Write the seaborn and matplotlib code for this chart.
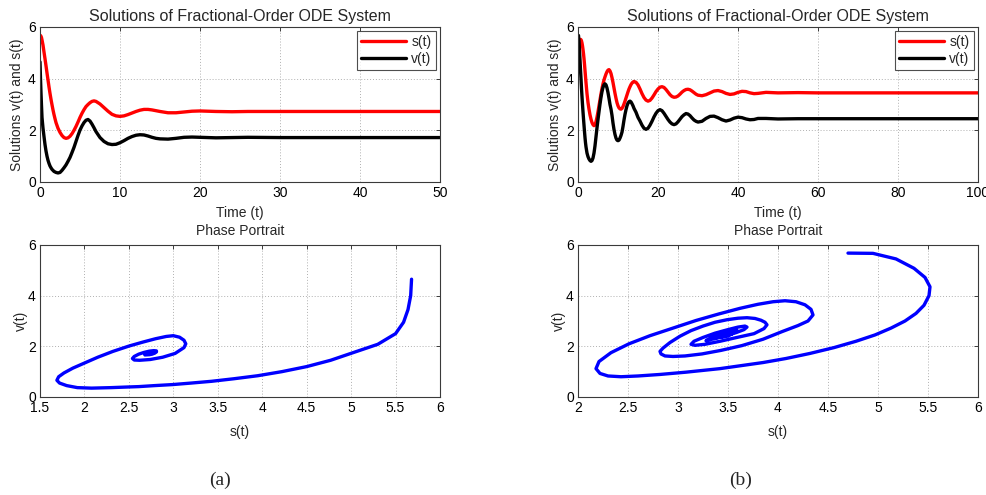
import numpy as np
import pandas as pd
import matplotlib
matplotlib.use("Agg")
import matplotlib.pyplot as plt
import seaborn as sns

# ---------------- data ----------------
# panel (a)
t_a = [0, 0.0625, 0.125, 0.1875, 0.25, 0.375, 0.5, 0.625, 0.75, 0.875,
       1.0, 1.125, 1.25, 1.375, 1.5, 1.625, 1.75, 1.875, 2.0,
       2.25, 2.5, 2.75, 3.0, 3.25, 3.5, 3.75, 4.0, 4.25, 4.5,
       4.75, 5.0, 5.25, 5.5, 5.75, 6.0, 6.25, 6.5, 6.75, 7.0,
       7.5, 8.0, 8.5, 9.0, 9.5, 10.0, 10.5, 11.0, 11.5, 12.0,
       12.5, 13.0, 13.5, 14.0, 14.5, 15.0, 16, 17, 18, 19,
       20, 22, 24, 26, 30, 35, 40, 45, 50]
s_a = [5.68, 5.67, 5.64, 5.59, 5.50, 5.30, 5.03, 4.77, 4.50, 4.22,
       3.95, 3.68, 3.43, 3.20, 2.99, 2.79, 2.61, 2.45, 2.30,
       2.08, 1.92, 1.80, 1.72, 1.69, 1.71, 1.77, 1.87, 2.00, 2.15,
       2.32, 2.50, 2.66, 2.80, 2.92, 3.00, 3.07, 3.12, 3.14, 3.12,
       3.02, 2.88, 2.74, 2.62, 2.56, 2.54, 2.56, 2.61, 2.67, 2.73,
       2.78, 2.81, 2.81, 2.79, 2.76, 2.73, 2.68, 2.68, 2.71, 2.74,
       2.75, 2.73, 2.72, 2.73, 2.73, 2.73, 2.73, 2.73, 2.73]
v_a = [4.65, 4.00, 3.45, 2.95, 2.50, 2.08, 1.76, 1.45, 1.20, 1.00,
       0.84, 0.72, 0.62, 0.55, 0.49, 0.45, 0.41, 0.39, 0.37,
       0.35, 0.37, 0.45, 0.55, 0.66, 0.80, 0.95, 1.14, 1.34, 1.57,
       1.80, 2.01, 2.17, 2.30, 2.39, 2.42, 2.36, 2.24, 2.10, 1.95,
       1.72, 1.57, 1.48, 1.45, 1.46, 1.52, 1.60, 1.69, 1.76, 1.81,
       1.83, 1.82, 1.78, 1.73, 1.69, 1.67, 1.66, 1.69, 1.73, 1.74,
       1.73, 1.71, 1.72, 1.73, 1.72, 1.72, 1.72, 1.72, 1.72]

# panel (b)
t_b = [0, 0.125, 0.25, 0.375, 0.5, 0.625, 0.75, 0.875, 1.0, 1.125,
       1.25, 1.375, 1.5, 1.625, 1.75, 1.875, 2.0,
       2.25, 2.5, 2.75, 3.0, 3.25, 3.5, 3.75, 4.0, 4.25, 4.5, 4.75,
       5.0, 5.25, 5.5, 5.75, 6.0, 6.25, 6.5, 6.75, 7.0, 7.25,
       7.5, 7.75, 8.0, 8.25, 8.5, 8.75, 9.0, 9.25, 9.5, 9.75,
       10.0, 10.25, 10.5, 10.75, 11.0, 11.25, 11.5, 11.75, 12.0, 12.25,
       12.5, 12.75, 13.0, 13.25, 13.5, 13.75, 14.0,
       14.5, 15.0, 15.5, 16.0, 16.5, 17.0, 17.5, 18.0, 18.5, 19.0,
       19.5, 20.0, 20.5, 21.0, 21.5, 22.0, 22.5, 23.0, 23.5, 24.0,
       24.5, 25.0, 25.5, 26.0, 26.5, 27.0, 27.5, 28.0, 28.5, 29.0,
       29.5, 30.0,
       31, 32, 33, 34, 35, 36, 37, 38, 39, 40, 41, 42, 43, 44, 45,
       47, 50, 55, 60, 70, 80, 90, 100]
s_b = [4.70, 4.95, 5.18, 5.36, 5.47, 5.52, 5.51, 5.46, 5.38, 5.27,
       5.13, 4.97, 4.78, 4.56, 4.32, 4.08, 3.85,
       3.42, 3.08, 2.82, 2.60, 2.43, 2.30, 2.22, 2.18, 2.21, 2.33, 2.51,
       2.72, 2.95, 3.18, 3.41, 3.62, 3.80, 3.95, 4.07, 4.18, 4.27,
       4.33, 4.35, 4.30, 4.20, 4.04, 3.85, 3.64, 3.43, 3.24, 3.07,
       2.95, 2.87, 2.83, 2.82, 2.85, 2.92, 3.02, 3.13, 3.25, 3.37,
       3.49, 3.60, 3.69, 3.77, 3.83, 3.87, 3.89,
       3.86, 3.76, 3.60, 3.42, 3.27, 3.17, 3.13, 3.16, 3.25, 3.37,
       3.50, 3.60, 3.67, 3.69, 3.66, 3.58, 3.48, 3.38, 3.31, 3.28,
       3.29, 3.33, 3.40, 3.48, 3.54, 3.58, 3.59, 3.57, 3.52, 3.46,
       3.40, 3.36,
       3.34, 3.38, 3.45, 3.52, 3.54, 3.50, 3.43, 3.39, 3.41, 3.47,
       3.51, 3.50, 3.45, 3.42, 3.43,
       3.47, 3.45, 3.46, 3.45, 3.45, 3.45, 3.45, 3.45]
v_b = [5.68, 5.67, 5.45, 5.08, 4.72, 4.35, 4.00, 3.62, 3.30, 3.00,
       2.72, 2.45, 2.20, 1.95, 1.72, 1.52, 1.36,
       1.12, 0.98, 0.89, 0.83, 0.80, 0.83, 0.93, 1.12, 1.40, 1.75, 2.10,
       2.42, 2.72, 3.02, 3.28, 3.50, 3.66, 3.76, 3.80, 3.76, 3.64,
       3.46, 3.24, 3.00, 2.82, 2.58, 2.28, 2.03, 1.84, 1.70, 1.62,
       1.60, 1.62, 1.70, 1.80, 1.93, 2.15, 2.40, 2.62, 2.80, 2.95,
       3.05, 3.11, 3.13, 3.10, 3.03, 2.95, 2.85,
       2.70, 2.50, 2.36, 2.20, 2.08, 2.04, 2.08, 2.20, 2.35, 2.52,
       2.66, 2.76, 2.80, 2.76, 2.66, 2.54, 2.42, 2.32, 2.25, 2.22,
       2.25, 2.33, 2.43, 2.53, 2.60, 2.65, 2.63, 2.57, 2.48, 2.40,
       2.35, 2.32,
       2.35, 2.46, 2.54, 2.55, 2.49, 2.41, 2.36, 2.40, 2.47, 2.51,
       2.49, 2.44, 2.41, 2.42, 2.46,
       2.46, 2.44, 2.45, 2.45, 2.45, 2.45, 2.45, 2.45]

top_title = "Solutions of Fractional-Order ODE System"
bottom_title = "Phase Portrait"
captions = ["(a)", "(b)"]

# ---------------- style ----------------
sns.set_theme(style="white")
plt.rcParams["font.family"] = ["Liberation Sans", "DejaVu Sans"]

W, H = 987, 495
fig = plt.figure(figsize=(W / 100, H / 100), dpi=100)


def axrect(x0, y0, x1, y1):
    return [x0 / W, 1 - y1 / H, (x1 - x0) / W, (y1 - y0) / H]


def style(ax):
    for sp in ax.spines.values():
        sp.set_color("#3a3a3a")
        sp.set_linewidth(0.8)
        sp.set_visible(True)
    ax.grid(True, linestyle=(0, (1, 2)), color="#b0b0b0", linewidth=0.7)
    ax.set_axisbelow(True)
    ax.tick_params(direction="in", length=3, width=0.7, top=True, right=True,
                   labelsize=10, pad=3, colors="#3a3a3a", labelcolor="black")


panels = [
    (t_a, s_a, v_a, 40, [0, 50], [0, 10, 20, 30, 40, 50],
     [1.5, 6], [1.5, 2, 2.5, 3, 3.5, 4, 4.5, 5, 5.5, 6], 220),
    (t_b, s_b, v_b, 578, [0, 100], [0, 20, 40, 60, 80, 100],
     [2, 6], [2, 2.5, 3, 3.5, 4, 4.5, 5, 5.5, 6], 741),
]

for i, (t, s, v, x0, tlim, tticks, slim, sticks, capx) in enumerate(panels):
    df = pd.DataFrame({"t": t, "s": s, "v": v})

    ax = fig.add_axes(axrect(x0, 27, x0 + 400, 182))
    sns.lineplot(data=df, x="t", y="s", ax=ax, color="#ff0000", lw=2.4,
                 label="s(t)", estimator=None, sort=False)
    sns.lineplot(data=df, x="t", y="v", ax=ax, color="black", lw=2.4,
                 label="v(t)", estimator=None, sort=False)
    ax.set_xlim(tlim)
    ax.set_ylim(0, 6)
    ax.set_xticks(tticks)
    ax.set_yticks([0, 2, 4, 6])
    style(ax)
    ax.set_title(top_title, fontsize=11.5, pad=4)
    ax.set_xlabel("Time (t)", fontsize=10, labelpad=4)
    ax.set_ylabel("Solutions v(t) and s(t)", fontsize=10, labelpad=3)
    leg = ax.legend(loc="upper right", frameon=True, fancybox=False,
                    edgecolor="#222222", fontsize=10, handlelength=3.2,
                    borderaxespad=0.3, borderpad=0.3, labelspacing=0.2,
                    handletextpad=0.4)
    leg.get_frame().set_linewidth(0.8)

    bx = fig.add_axes(axrect(x0, 245, x0 + 400, 397))
    sns.lineplot(data=df, x="s", y="v", ax=bx, color="#0000ff", lw=2.4,
                 estimator=None, sort=False)
    bx.set_xlim(slim)
    bx.set_ylim(0, 6)
    bx.set_xticks(sticks)
    bx.set_xticklabels([f"{x:g}" for x in sticks])
    bx.set_yticks([0, 2, 4, 6])
    style(bx)
    bx.set_title(bottom_title, fontsize=10, pad=7)
    bx.set_xlabel("s(t)", fontsize=10, labelpad=7)
    bx.set_ylabel("v(t)", fontsize=10, labelpad=0)

    fig.text(capx / W, 1 - 480 / H, captions[i], ha="center", va="center",
             fontsize=14, family=["Liberation Serif", "DejaVu Serif"])

fig.savefig("out.png", dpi=100)
